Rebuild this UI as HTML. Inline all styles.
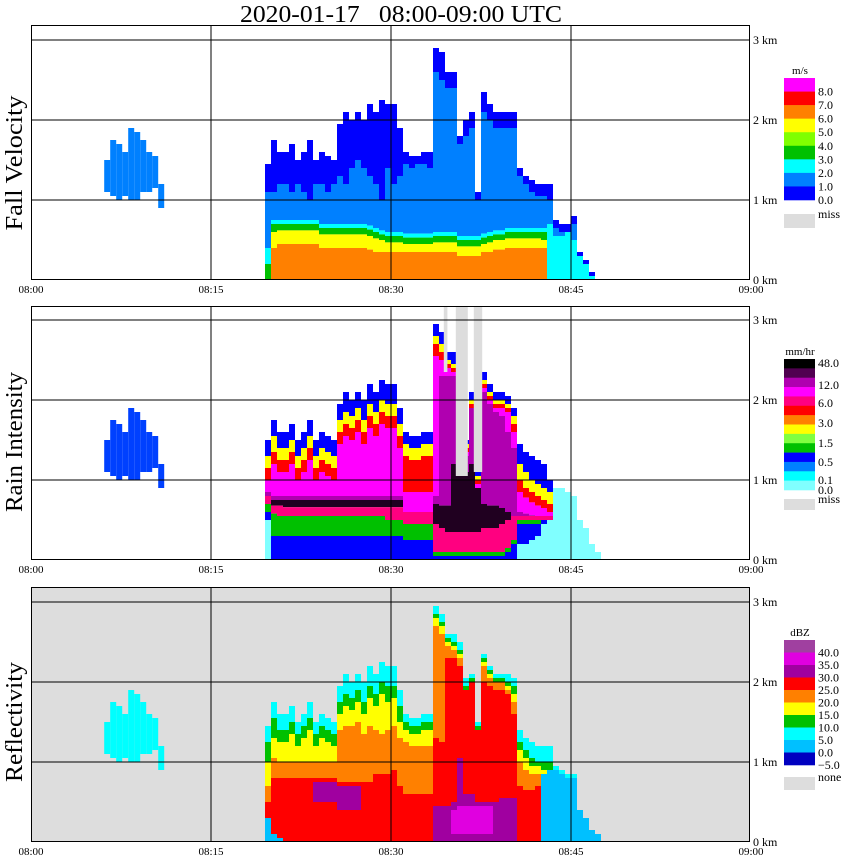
<!DOCTYPE html>
<html><head><meta charset="utf-8"><title>Radar 2020-01-17</title>
<style>
html,body{margin:0;padding:0;background:#fff;}
svg{display:block;font-family:"Liberation Serif",serif;}
</style></head>
<body>
<svg id="chart" xmlns="http://www.w3.org/2000/svg" width="850" height="868" viewBox="0 0 850 868">
<text x="401" y="22" font-size="24" text-anchor="middle" textLength="322" lengthAdjust="spacingAndGlyphs" xml:space="preserve" style="white-space:pre">2020-01-17   08:00-09:00 UTC</text>
<text transform="translate(22,163) rotate(-90)" font-size="24" text-anchor="middle" textLength="135" lengthAdjust="spacingAndGlyphs">Fall Velocity</text>
<text transform="translate(22,442) rotate(-90)" font-size="24" text-anchor="middle" textLength="140" lengthAdjust="spacingAndGlyphs">Rain Intensity</text>
<text transform="translate(22,722) rotate(-90)" font-size="24" text-anchor="middle" textLength="120" lengthAdjust="spacingAndGlyphs">Reflectivity</text>
<g id="panels"></g>
</svg>
<script>
// ---------- data ----------
const colStartMin = 19.5;          // first column: 08:19.5
const colStepMin = 0.5;
const timeTicks = ["08:00","08:15","08:30","08:45","09:00"];
const tickMinutes = [0,15,30,45,60];
const kmTicks = [0,1,2,3];

// Panel 1: fall velocity
const p1Top = [1.45,1.75,1.6,1.6,1.7,1.5,1.6,1.75,1.5,1.6,1.55,1.5, 1.95,2.1,2.0,2.1,2.0,2.2,2.1,2.25,2.2,2.2,1.9, 1.6,1.55,1.55,1.6,1.6, 2.9,2.85,2.6,2.6,1.8,2.0,2.1,1.1, 2.35,2.2,2.1,2.1,2.1,2.1, 1.4,1.3,1.25,1.2,1.2,1.2, 0.75,0.7,0.7,0.8,0.35,0.25,0.1,0.0];
const p1Dark = [1.1,1.1,1.2,1.2,1.1,1.2,1.1,1.0,1.2,1.2,1.1,1.2, 1.3,1.2,1.4,1.5,1.4,1.3,1.2,1.0,1.4,1.2,1.3, 1.45,1.4,1.45,1.45,1.4, 2.6,2.5,2.4,2.4,1.7,1.8,1.9,1.0, 2.1,2.0,1.9,1.9,1.9,1.9, 1.3,1.2,1.1,1.05,1.05,1.0, 0.65,0.6,0.6,0.7,0.3,0.2,0.05,0];
const p1Light = [0.4,0.75,0.75,0.75,0.75,0.75,0.75,0.75,0.75,0.7,0.7,0.7, 0.7,0.7,0.7,0.7,0.7,0.68,0.65,0.62,0.6,0.6,0.6, 0.58,0.58,0.58,0.58,0.58, 0.6,0.6,0.6,0.6,0.55,0.55,0.55,0.55, 0.58,0.6,0.62,0.62,0.65,0.65, 0.65,0.65,0.65,0.65,0.65,0.7, 0.55,0.55,0.6,0.5,0.3,0.2,0.05,0];
const p1Cyan = [0.2,0.7,0.7,0.7,0.7,0.7,0.7,0.7,0.7,0.65,0.65,0.65, 0.65,0.65,0.65,0.65,0.65,0.63,0.6,0.57,0.55,0.55,0.55, 0.53,0.53,0.53,0.53,0.53, 0.55,0.55,0.55,0.55,0.5,0.5,0.5,0.5, 0.53,0.55,0.57,0.57,0.6,0.6, 0.6,0.6,0.6,0.6,0.6,0, 0,0,0,0,0,0,0,0];
const p1Green = [0,0.6,0.62,0.62,0.62,0.62,0.62,0.62,0.62,0.57,0.57,0.57, 0.57,0.57,0.57,0.57,0.57,0.55,0.52,0.5,0.47,0.47,0.47, 0.45,0.45,0.45,0.45,0.45, 0.47,0.47,0.47,0.47,0.42,0.42,0.42,0.42, 0.45,0.47,0.5,0.5,0.52,0.52, 0.52,0.52,0.52,0.52,0.5,0, 0,0,0,0,0,0,0,0];
const p1Yellow = [0,0.4,0.45,0.45,0.45,0.45,0.45,0.45,0.45,0.4,0.4,0.4, 0.4,0.4,0.4,0.4,0.4,0.38,0.35,0.35,0.35,0.35,0.35, 0.35,0.35,0.35,0.35,0.35, 0.35,0.35,0.35,0.35,0.3,0.3,0.3,0.3, 0.35,0.35,0.38,0.38,0.4,0.4, 0.4,0.4,0.4,0.4,0.4,0, 0,0,0,0,0,0,0,0];
const p1Orange = [0,0,0,0,0,0,0,0,0,0,0,0, 0,0,0,0,0,0,0,0,0,0,0, 0,0,0,0,0, 0,0,0,0,0,0,0,0, 0,0,0,0,0,0, 0,0,0,0,0,0, 0,0,0,0,0,0,0,0];

// Panel 2: rain intensity
const p2Top = [1.5,1.75,1.6,1.6,1.7,1.5,1.6,1.75,1.5,1.6,1.55,1.5, 1.95,2.1,2.0,2.1,2.0,2.2,2.1,2.25,2.2,2.2,1.9, 1.6,1.55,1.55,1.6,1.6, 2.95,2.85,2.6,2.6,2.45,1.5,2.1,1.1, 2.35,2.2,2.1,2.1,2.05,1.9, 1.45,1.35,1.3,1.25,1.2,1.0, 0.9,0.9,0.85,0.8,0.5,0.4,0.2,0.1];
const p2A = [1.3,1.55,1.4,1.4,1.5,1.3,1.4,1.55,1.3,1.4,1.35,1.3, 1.75,1.85,1.8,1.9,1.75,1.95,1.85,2.0,1.95,1.95,1.7, 1.45,1.4,1.4,1.45,1.45, 2.8,2.7,2.5,2.45,2.35,1.45,2.0,1.05, 2.25,2.1,2.0,2.0,1.95,1.8, 1.2,1.1,1.0,0.95,0.9,0.85, 0.9,0.9,0.85,0.8,0.5,0.4,0.2,0.1];
const p2B = [1.15,1.35,1.25,1.25,1.35,1.15,1.25,1.4,1.15,1.25,1.2,1.15, 1.6,1.7,1.65,1.75,1.6,1.8,1.7,1.85,1.8,1.8,1.55, 1.3,1.25,1.25,1.3,1.3, 2.7,2.6,2.45,2.4,2.3,1.4,1.95,1.0, 2.2,2.05,1.95,1.95,1.9,1.7, 1.0,0.9,0.85,0.8,0.75,0.7, 0.9,0.9,0.85,0.8,0.5,0.4,0.2,0.1];
const p2C = [1.0,1.2,1.1,1.1,1.2,1.0,1.1,1.25,1.0,1.1,1.05,1.0, 1.45,1.55,1.5,1.6,1.45,1.65,1.55,1.7,1.65,1.65,1.4, 0.85,0.85,0.85,0.85,0.85, 2.55,2.5,2.4,2.35,2.25,1.35,1.9,0.95, 2.15,2.0,1.9,1.9,1.85,1.6, 0.85,0.78,0.72,0.68,0.65,0.6, 0.9,0.9,0.85,0.8,0.5,0.4,0.2,0.1];
const p2D = [0.85,0.8,0.8,0.8,0.8,0.8,0.8,0.8,0.8,0.8,0.8,0.8, 0.8,0.8,0.8,0.8,0.8,0.8,0.8,0.8,0.8,0.8,0.8, 0.6,0.6,0.6,0.6,0.6, 0.8,2.3,2.3,2.3,2.2,1.3,1.9,0.9, 2.1,1.95,1.85,1.8,1.6,1.4, 0.6,0.58,0.56,0.55,0.55,0.55, 0.9,0.9,0.85,0.8,0.5,0.4,0.2,0.1];
const p2E = [0.8,0.75,0.75,0.75,0.75,0.75,0.75,0.75,0.75,0.75,0.75,0.75, 0.75,0.75,0.75,0.75,0.75,0.75,0.75,0.75,0.75,0.75,0.75, 0.6,0.6,0.6,0.6,0.6, 0.7,0.68,0.68,1.2,1.2,1.1,1.2,0.9, 0.7,0.68,0.68,0.65,0.6,0.55, 0.55,0.55,0.55,0.55,0.55,0.55, 0.9,0.9,0.85,0.8,0.5,0.4,0.2,0.1];
const p2F = [0.8,0.68,0.68,0.66,0.66,0.66,0.66,0.66,0.66,0.66,0.66,0.66, 0.66,0.66,0.66,0.66,0.66,0.66,0.66,0.66,0.66,0.66,0.66, 0.6,0.6,0.6,0.6,0.6, 0.45,0.4,0.35,0.35,0.35,0.35,0.35,0.35, 0.4,0.4,0.4,0.45,0.5,0.55, 0.55,0.55,0.55,0.55,0.55,0.55, 0.9,0.9,0.85,0.8,0.5,0.4,0.2,0.1];
const p2G = [0.7,0.58,0.55,0.55,0.55,0.55,0.55,0.55,0.55,0.55,0.55,0.55, 0.55,0.55,0.55,0.55,0.55,0.55,0.55,0.55,0.5,0.5,0.5, 0.45,0.45,0.45,0.45,0.45, 0.1,0.1,0.1,0.1,0.1,0.1,0.1,0.1, 0.1,0.1,0.1,0.1,0.15,0.25, 0.5,0.5,0.5,0.5,0.5,0.5, 0.9,0.9,0.85,0.8,0.5,0.4,0.2,0.1];
const p2H = [0.6,0.3,0.3,0.3,0.3,0.3,0.3,0.3,0.3,0.3,0.3,0.3, 0.3,0.3,0.3,0.3,0.3,0.3,0.3,0.3,0.3,0.3,0.3, 0.25,0.25,0.25,0.25,0.25, 0.05,0.05,0.05,0.05,0.05,0.05,0.05,0.05, 0.05,0.05,0.05,0.05,0.1,0.2, 0.45,0.45,0.45,0.45,0.5,0.5, 0.9,0.9,0.85,0.8,0.5,0.4,0.2,0.1];
const p2I = [0.5,0,0,0,0,0,0,0,0,0,0,0, 0,0,0,0,0,0,0,0,0,0,0, 0,0,0,0,0, 0,0,0,0,0,0,0,0, 0,0,0,0,0,0, 0.2,0.2,0.25,0.3,0.45,0.5, 0.9,0.9,0.85,0.8,0.5,0.4,0.2,0.1];
const p2J = [0,0,0,0,0,0,0,0,0,0,0,0, 0,0,0,0,0,0,0,0,0,0,0, 0,0,0,0,0, 0,0,0,0,0,0,0,0, 0,0,0,0,0,0, 0,0,0,0,0,0, 0,0,0,0,0,0,0,0];
const missStart = [34.4,35.4,36.9];
const missEnd = [34.7,36.4,37.6];
const missBottom = [2.35,1.05,1.1];

// Panel 3: reflectivity
const p3Top = [1.45,1.75,1.6,1.6,1.7,1.5,1.6,1.75,1.5,1.6,1.55,1.5, 1.95,2.1,2.0,2.1,2.0,2.2,2.1,2.25,2.2,2.2,1.9, 1.6,1.55,1.55,1.6,1.6, 2.95,2.85,2.6,2.6,2.5,2.05,2.1,1.5, 2.35,2.2,2.1,2.1,2.1,2.05, 1.4,1.3,1.25,1.2,1.2,1.2, 0.95,0.9,0.85,0.85,0.4,0.3,0.15,0.1];
const p3A = [1.25,1.55,1.4,1.4,1.5,1.35,1.45,1.55,1.35,1.45,1.4,1.35, 1.75,1.85,1.8,1.9,1.75,1.95,1.85,2.0,1.95,1.95,1.7, 1.5,1.45,1.45,1.5,1.5, 2.85,2.75,2.55,2.5,2.4,1.95,2.05,1.45, 2.3,2.15,2.05,2.05,2.0,1.95, 1.25,1.15,1.05,1.0,1.0,1.0, 0.9,0.85,0.8,0.8,0.4,0.3,0.15,0.1];
const p3B = [1.0,1.3,1.25,1.25,1.35,1.2,1.3,1.4,1.2,1.3,1.25,1.2, 1.6,1.7,1.65,1.75,1.6,1.8,1.7,1.85,1.75,1.8,1.5, 1.4,1.35,1.35,1.4,1.4, 2.8,2.7,2.5,2.45,2.35,1.9,2.0,1.4, 2.25,2.1,2.0,2.0,1.95,1.85, 1.15,1.05,0.95,0.95,0.9,0.9, 0.9,0.85,0.8,0.8,0.4,0.3,0.15,0.1];
const p3C = [0.7,1.05,1.0,1.0,1.0,1.0,1.0,1.0,1.0,1.0,1.0,1.0, 1.4,1.45,1.45,1.5,1.35,1.45,1.4,1.35,1.4,1.45,1.3, 1.25,1.2,1.2,1.2,1.2, 2.7,2.6,2.45,2.4,2.3,1.9,2.0,1.4, 2.2,2.05,2.0,2.0,1.9,1.75, 1.0,0.9,0.85,0.85,0.85,0.9, 0.9,0.85,0.8,0.8,0.4,0.3,0.15,0.1];
const p3D = [0.5,0.8,0.8,0.8,0.8,0.8,0.8,0.8,0.8,0.8,0.8,0.8, 0.75,0.75,0.75,0.75,0.75,0.75,0.85,0.85,0.85,0.9,0.7, 0.6,0.6,0.6,0.6,0.6, 1.3,1.25,2.3,2.3,2.2,1.9,2.0,1.4, 2.0,1.95,1.9,1.9,1.85,1.6, 0.7,0.65,0.65,0.7,0.85,0.9, 0.9,0.85,0.8,0.8,0.4,0.3,0.15,0.1];
const p3E = [0.5,0.3,0.3,0.2,0.1,0.1,0.1,0.1,0.75,0.75,0.75,0.75, 0.7,0.7,0.7,0.7,0.1,0.1,0.1,0.1,0.1,0.1,0.1, 0.1,0.1,0.1,0.1,0.1, 0.45,0.45,0.45,0.5,1.05,0.6,0.6,0.5, 0.5,0.5,0.5,0.55,0.55,0.55, 0.1,0.1,0.1,0.1,0.85,0.9, 0.9,0.85,0.8,0.8,0.4,0.3,0.15,0.1];
const p3F = [0.5,0.3,0.3,0.2,0.1,0.1,0.1,0.1,0.5,0.5,0.5,0.5, 0.4,0.4,0.4,0.4,0.1,0.1,0.1,0.1,0.1,0.1,0.1, 0.1,0.1,0.1,0.1,0.1, 0.05,0.05,0.05,0.4,0.45,0.45,0.45,0.45, 0.45,0.45,0.05,0.05,0.05,0.05, 0.1,0.1,0.1,0.1,0.85,0.9, 0.9,0.85,0.8,0.8,0.4,0.3,0.15,0.1];
const p3G = [0.5,0.3,0.3,0.2,0.1,0.1,0.1,0.1,0.5,0.5,0.5,0.5, 0.4,0.4,0.4,0.4,0.1,0.1,0.1,0.1,0.1,0.1,0.1, 0.1,0.1,0.1,0.1,0.1, 0.05,0.05,0.05,0.1,0.1,0.1,0.1,0.1, 0.1,0.1,0.05,0.05,0.05,0.05, 0.1,0.1,0.1,0.1,0.85,0.9, 0.9,0.85,0.8,0.8,0.4,0.3,0.15,0.1];
const p3H = [0.5,0.3,0.3,0.2,0.1,0.1,0.1,0.1,0.5,0.5,0.5,0.5, 0.4,0.4,0.4,0.4,0.1,0.1,0.1,0.1,0.1,0.1,0.1, 0.1,0.1,0.1,0.1,0.1, 0,0,0,0,0,0,0,0, 0,0,0,0,0,0, 0.1,0.1,0.1,0.1,0.85,0.9, 0.9,0.85,0.8,0.8,0.4,0.3,0.15,0.1];
const p3I = [0.3,0.1,0.05,0,0,0,0,0,0,0,0,0, 0,0,0,0,0,0,0,0,0,0,0, 0,0,0,0,0, 0,0,0,0,0,0,0,0, 0,0,0,0,0,0, 0,0,0,0,0.85,0.9, 0.9,0.85,0.8,0.8,0.4,0.3,0.15,0.1];
const p3J = [0,0,0,0,0,0,0,0,0,0,0,0, 0,0,0,0,0,0,0,0,0,0,0, 0,0,0,0,0, 0,0,0,0,0,0,0,0, 0,0,0,0,0,0, 0,0,0,0,0,0, 0,0,0,0,0,0,0,0];

// Small early cloud near 08:06-08:10
const leftStartMin = 6.1;
const leftTop = [1.5,1.75,1.7,1.6,1.9,1.85,1.75,1.6,1.55,1.2];
const leftBottom = [1.1,1.05,1.0,1.05,1.0,1.0,1.1,1.1,1.15,0.9];

// Legends
const velLabels = ["8.0","7.0","6.0","5.0","4.0","3.0","2.0","1.0","0.0"];
const velColors = ["#ff00ff","#ff0000","#ff8000","#ffff00","#80ff00","#00c000","#00ffff","#0080ff","#0000ff"];
const rainLabels = ["48.0","12.0","6.0","3.0","1.5","0.5","0.1","0.0"];
const rainLabelY = [363,385,403,423,443,462,480,490];
const rainColors = ["#000000","#500050","#b000b0","#ff00ff","#ff0080","#ff0000","#ff8000","#ffff00","#80ff40","#00c000","#0000ff","#0080ff","#00ffff","#80ffff"];
const dbzLabels = ["40.0","35.0","30.0","25.0","20.0","15.0","10.0","5.0","0.0","\u22125.0"];
const dbzColors = ["#a040a0","#e000e0","#a000a0","#ff0000","#ff8000","#ffff00","#00c000","#00ffff","#00c0ff","#0000c0"];

// ---------- rendering ----------
const NS = "http://www.w3.org/2000/svg";
const root = document.getElementById("panels");
const X0 = 31, X1 = 750, PXMIN = 12, PXKM = 80;
function xOf(min){ return X0 + min*PXMIN; }
function mk(tag, attrs, parent){
  const e = document.createElementNS(NS, tag);
  for (const k in attrs) e.setAttribute(k, attrs[k]);
  (parent||root).appendChild(e);
  return e;
}

const panels = [
  {name:"fall-velocity", top:25, base:280, bg:"#ffffff", tops:p1Top,
   bands:[p1Dark,p1Light,p1Cyan,p1Green,p1Yellow,p1Orange],
   colors:["#0000ff","#0080ff","#00ffff","#00c000","#ffff00","#ff8000"], leftColor:"#0080ff"},
  {name:"rain-intensity", top:306, base:560, bg:"#ffffff", tops:p2Top,
   bands:[p2A,p2B,p2C,p2D,p2E,p2F,p2G,p2H,p2I,p2J],
   colors:["#0000ff","#ffff00","#ff0000","#ff00ff","#b000b0","#200020","#ff0080","#00c000","#0000ff","#80ffff"], leftColor:"#0040ff"},
  {name:"reflectivity", top:587, base:842, bg:"#dddddd", tops:p3Top,
   bands:[p3A,p3B,p3C,p3D,p3E,p3F,p3G,p3H,p3I,p3J],
   colors:["#00ffff","#00c000","#ffff00","#ff8000","#ff0000","#a000a0","#e000e0","#a000a0","#ff0000","#00c0ff"], leftColor:"#00ffff"}
];

panels.forEach(function(p, pi){
  const g = mk("g", {});
  
  
  const yOf = function(km){ return p.base - km*PXKM; };
  const bg = mk("rect", {x:X0, y:p.top, width:X1-X0, height:p.base-p.top, fill:p.bg}, g);
  
  

  for (let k=0;k<leftTop.length;k++){
    const x = xOf(leftStartMin + k*colStepMin);
    const r = mk("rect", {x:x, y:yOf(leftTop[k]), width:xOf(leftStartMin+(k+1)*colStepMin)-x, height:(leftTop[k]-leftBottom[k])*PXKM, fill:p.leftColor}, g);
    
    
  }

  for (let c=0;c<p.tops.length;c++){
    const x = xOf(colStartMin + c*colStepMin);
    const w = xOf(colStartMin + (c+1)*colStepMin) - x;
    let h = p.tops[c];
    for (let b=0;b<p.bands.length;b++){
      const bot = p.bands[b][c];
      if (h > bot){
        const r = mk("rect", {x:x, y:yOf(h), width:w, height:(h-bot)*PXKM, fill:p.colors[b]}, g);
        
        
        h = bot;
      }
    }
  }

  if (pi === 1){
    for (let m=0;m<missStart.length;m++){
      const x = xOf(missStart[m]);
      const r = mk("rect", {x:x, y:p.top, width:xOf(missEnd[m])-x, height:yOf(missBottom[m])-p.top, fill:"#dddddd"}, g);
      
      
    }
  }

  kmTicks.forEach(function(km){
    if (km>0){
      const l = mk("line", {x1:X0, x2:X1, y1:yOf(km), y2:yOf(km), stroke:"#000", "stroke-width":1}, g);
      
      
    }
    const t = mk("text", {x:753, y:yOf(km)+4, "font-size":12}, g);
    
    
    t.textContent = km + " km";
  });
  tickMinutes.forEach(function(m, i){
    if (m>0 && m<60){
      const l = mk("line", {x1:xOf(m), x2:xOf(m), y1:p.top, y2:p.base, stroke:"#000", "stroke-width":1}, g);
      
      
    }
    const t = mk("text", {x:xOf(m), y:p.base+13, "font-size":11, "text-anchor":"middle"}, g);
    
    
    t.textContent = timeTicks[i];
  });
  const fr = mk("rect", {x:X0+0.5, y:p.top+0.5, width:X1-X0-1, height:p.base-p.top-1, fill:"none", stroke:"#000", "stroke-width":1}, g);
  
  
});

function legend(name, unit, unitY, y0, y1, colors, labels, labelYs, missY, missH, missText){
  const g = mk("g", {});
  
  
  const u = mk("text", {x:800, y:unitY, "font-size":11, "text-anchor":"middle"}, g);
  
  
  u.textContent = unit;
  const h = (y1-y0)/colors.length;
  colors.forEach(function(col, i){
    const r = mk("rect", {x:784, y:y0+i*h, width:31, height:h+0.3, fill:col}, g);
    
    
  });
  labels.forEach(function(lb, i){
    const t = mk("text", {x:818, y:labelYs[i]+4, "font-size":12}, g);
    
    
    t.textContent = lb;
  });
  const mr = mk("rect", {x:784, y:missY, width:31, height:missH, fill:"#dddddd"}, g);
  
  
  const mt = mk("text", {x:818, y:missY+4, "font-size":12}, g);
  
  
  mt.textContent = missText;
}
const velYs = velLabels.map(function(_, i){ return 78 + (i+1)*(122/9); });
legend("fall-velocity-legend", "m/s", 74, 78, 200, velColors, velLabels, velYs, 214, 14, "miss");
legend("rain-intensity-legend", "mm/hr", 355, 359, 490, rainColors, rainLabels, rainLabelY, 499, 11, "miss");
const dbzYs = dbzLabels.map(function(_, i){ return 640 + (i+1)*12.5; });
legend("reflectivity-legend", "dBZ", 636, 640, 765, dbzColors, dbzLabels, dbzYs, 777, 13, "none");
</script>
</body></html>
